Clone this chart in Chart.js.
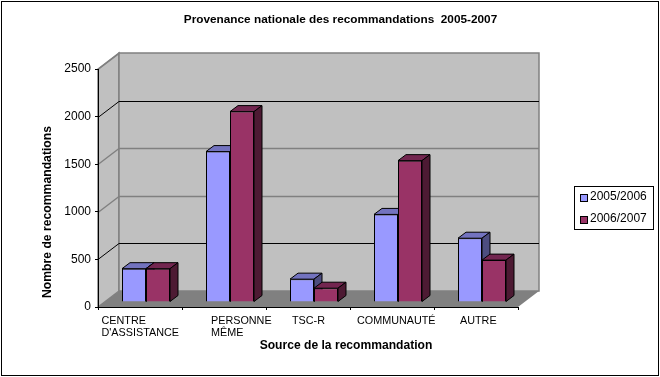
<!DOCTYPE html>
<html>
<head>
<meta charset="utf-8">
<style>
  html, body { margin: 0; padding: 0; background: #fff; }
  #wrap { width: 660px; height: 377px; }
</style>
<script src="https://cdn.jsdelivr.net/npm/chart.js@4/dist/chart.umd.min.js"></script>
</head>
<body>
<div id="wrap"><canvas id="provenanceChart" width="660" height="377"></canvas></div>
<script>
const categories = [["CENTRE", "D'ASSISTANCE"], ["PERSONNE", "MÊME"], ["TSC-R"], ["COMMUNAUTÉ"], ["AUTRE"]];
const serie2005 = [350, 1580, 240, 920, 670];
const serie2006 = [350, 2000, 145, 1485, 440];
const yMax = 2500;
const yStep = 500;

const fontName = '"Liberation Sans", Arial, sans-serif';
const wallDepth = { x: 21, y: 16 };
const barShift = { x: 6, y: 5 };
const barDepth = { x: 8, y: 6 };
// the labels are not centred under their category in the original
const labelShift = [-38.5, -13, -16, -35, -16];

function poly(ctx, pts, fill, stroke, width) {
    ctx.beginPath();
    pts.forEach((p, i) => i ? ctx.lineTo(p[0], p[1]) : ctx.moveTo(p[0], p[1]));
    ctx.closePath();
    if (fill) { ctx.fillStyle = fill; ctx.fill(); }
    if (stroke) { ctx.strokeStyle = stroke; ctx.lineWidth = width || 1; ctx.stroke(); }
}

function line(ctx, x1, y1, x2, y2, color, width) {
    ctx.strokeStyle = color;
    ctx.lineWidth = width;
    ctx.beginPath();
    ctx.moveTo(x1, y1);
    ctx.lineTo(x2, y2);
    ctx.stroke();
}

const box3d = {
    id: 'box3d',
    beforeDraw(chart) {
        const { ctx, chartArea: a, scales } = chart;
        const dx = wallDepth.x, dy = wallDepth.y;
        ctx.save();
        // outer frame
        ctx.strokeStyle = '#000';
        ctx.lineWidth = 1;
        ctx.strokeRect(1.5, 1.5, 657, 374);
        // walls and floor
        poly(ctx, [[a.left, a.top], [a.left + dx, a.top - dy], [a.left + dx, a.bottom - dy], [a.left, a.bottom]], '#c0c0c0', '#808080', 1.5);
        poly(ctx, [[a.left + dx, a.top - dy], [a.right + dx, a.top - dy], [a.right + dx, a.bottom - dy], [a.left + dx, a.bottom - dy]], '#c0c0c0', '#808080', 1.5);
        poly(ctx, [[a.left, a.bottom], [a.left + dx, a.bottom - dy], [a.right + dx, a.bottom - dy], [a.right, a.bottom]], '#808080', null);
        // gridlines on side and back wall
        scales.y.ticks.forEach(t => {
            if (t.value === 0) return;
            const y = Math.round(scales.y.getPixelForValue(t.value)) + 0.5;
            const black = t.value === 500 || t.value === 2000;
            const lineColor = black ? '#000' : '#808080';
            const w = black ? 1 : 1.5;
            line(ctx, a.left, y, a.left + dx, y - dy, lineColor, w);
            if (t.value !== yMax) line(ctx, a.left + dx, y - dy, a.right + dx, y - dy, lineColor, w);
        });
        ctx.restore();
    },
    // chart.js paints the first dataset last, here the left bar has to go first
    beforeDatasetsDraw(chart) {
        const { ctx } = chart;
        const dx = barDepth.x, dy = barDepth.y;
        ctx.save();
        ctx.translate(barShift.x, -barShift.y);
        chart.data.datasets.forEach((ds, i) => {
            const meta = chart.getDatasetMeta(i);
            meta.data.forEach(bar => {
                const half = bar.width / 2;
                const l = bar.x - half, r = bar.x + half;
                poly(ctx, [[l, bar.y], [l + dx, bar.y - dy], [r + dx, bar.y - dy], [r, bar.y]], ds.topColor, '#000');
                poly(ctx, [[r, bar.y], [r + dx, bar.y - dy], [r + dx, bar.base - dy], [r, bar.base]], ds.sideColor, '#000');
            });
            meta.controller.draw();
        });
        ctx.restore();
        return false;
    },
    afterDraw(chart) {
        const { ctx, scales } = chart;
        ctx.save();
        ctx.fillStyle = '#000';
        ctx.textBaseline = 'alphabetic';
        ctx.textAlign = 'left';
        // category labels
        ctx.font = '10.8px ' + fontName;
        categories.forEach((lines, i) => {
            const x = scales.x.getPixelForValue(i) + labelShift[i];
            lines.forEach((txt, j) => ctx.fillText(txt, x, 324 + j * 12));
        });
        // titles
        ctx.textAlign = 'center';
        ctx.font = 'bold 11.8px ' + fontName;
        ctx.fillText('Provenance nationale des recommandations  2005-2007', 340.5, 23);
        ctx.font = 'bold 12.1px ' + fontName;
        ctx.fillText('Source de la recommandation', 346, 349);
        ctx.font = 'bold 12.2px ' + fontName;
        ctx.save();
        ctx.translate(51, 212);
        ctx.rotate(-Math.PI / 2);
        ctx.fillText('Nombre de recommandations', 0, 0);
        ctx.restore();
        // legend
        ctx.strokeStyle = '#000';
        ctx.lineWidth = 1;
        ctx.strokeRect(574.5, 186.5, 79, 43);
        ctx.textAlign = 'left';
        ctx.font = '12px ' + fontName;
        chart.data.datasets.forEach((ds, i) => {
            const y = 194 + i * 22;
            ctx.fillStyle = ds.backgroundColor;
            ctx.fillRect(580, y, 8, 8);
            ctx.strokeRect(580.5, y + 0.5, 7, 7);
            ctx.fillStyle = '#000';
            ctx.fillText(ds.label, 590, y + 6);
        });
        ctx.restore();
    }
};

new Chart(document.getElementById('provenanceChart').getContext('2d'), {
    type: 'bar',
    data: {
        labels: categories,
        datasets: [{
            label: '2005/2006',
            data: serie2005,
            backgroundColor: '#9999ff',
            topColor: '#7373bf',
            sideColor: '#4d4d80',
            borderColor: '#000',
            borderWidth: 1
        }, {
            label: '2006/2007',
            data: serie2006,
            backgroundColor: '#993366',
            topColor: '#732650',
            sideColor: '#4d1a33',
            borderColor: '#000',
            borderWidth: 1
        }]
    },
    plugins: [box3d],
    options: {
        responsive: false,
        animation: false,
        layout: { padding: { top: 69, left: 40, right: 142, bottom: 0 } },
        datasets: { bar: { categoryPercentage: 48 / 84, barPercentage: 1, clip: false } },
        plugins: {
            legend: { display: false },
            title: { display: false },
            tooltip: { enabled: false }
        },
        scales: {
            x: {
                afterFit: scale => { scale.height = 70; },
                ticks: { display: false },
                border: { color: '#000' },
                grid: { color: '#000', drawOnChartArea: false, tickLength: 3 }
            },
            y: {
                min: 0,
                max: yMax,
                afterFit: scale => { scale.width = 58; },
                border: { color: '#000' },
                grid: { color: '#000', drawOnChartArea: false, tickLength: 3 },
                ticks: {
                    stepSize: yStep,
                    padding: 4,
                    color: '#000',
                    font: { family: fontName, size: 12 },
                    callback: v => String(v)
                }
            }
        }
    }
});
</script>
</body>
</html>
